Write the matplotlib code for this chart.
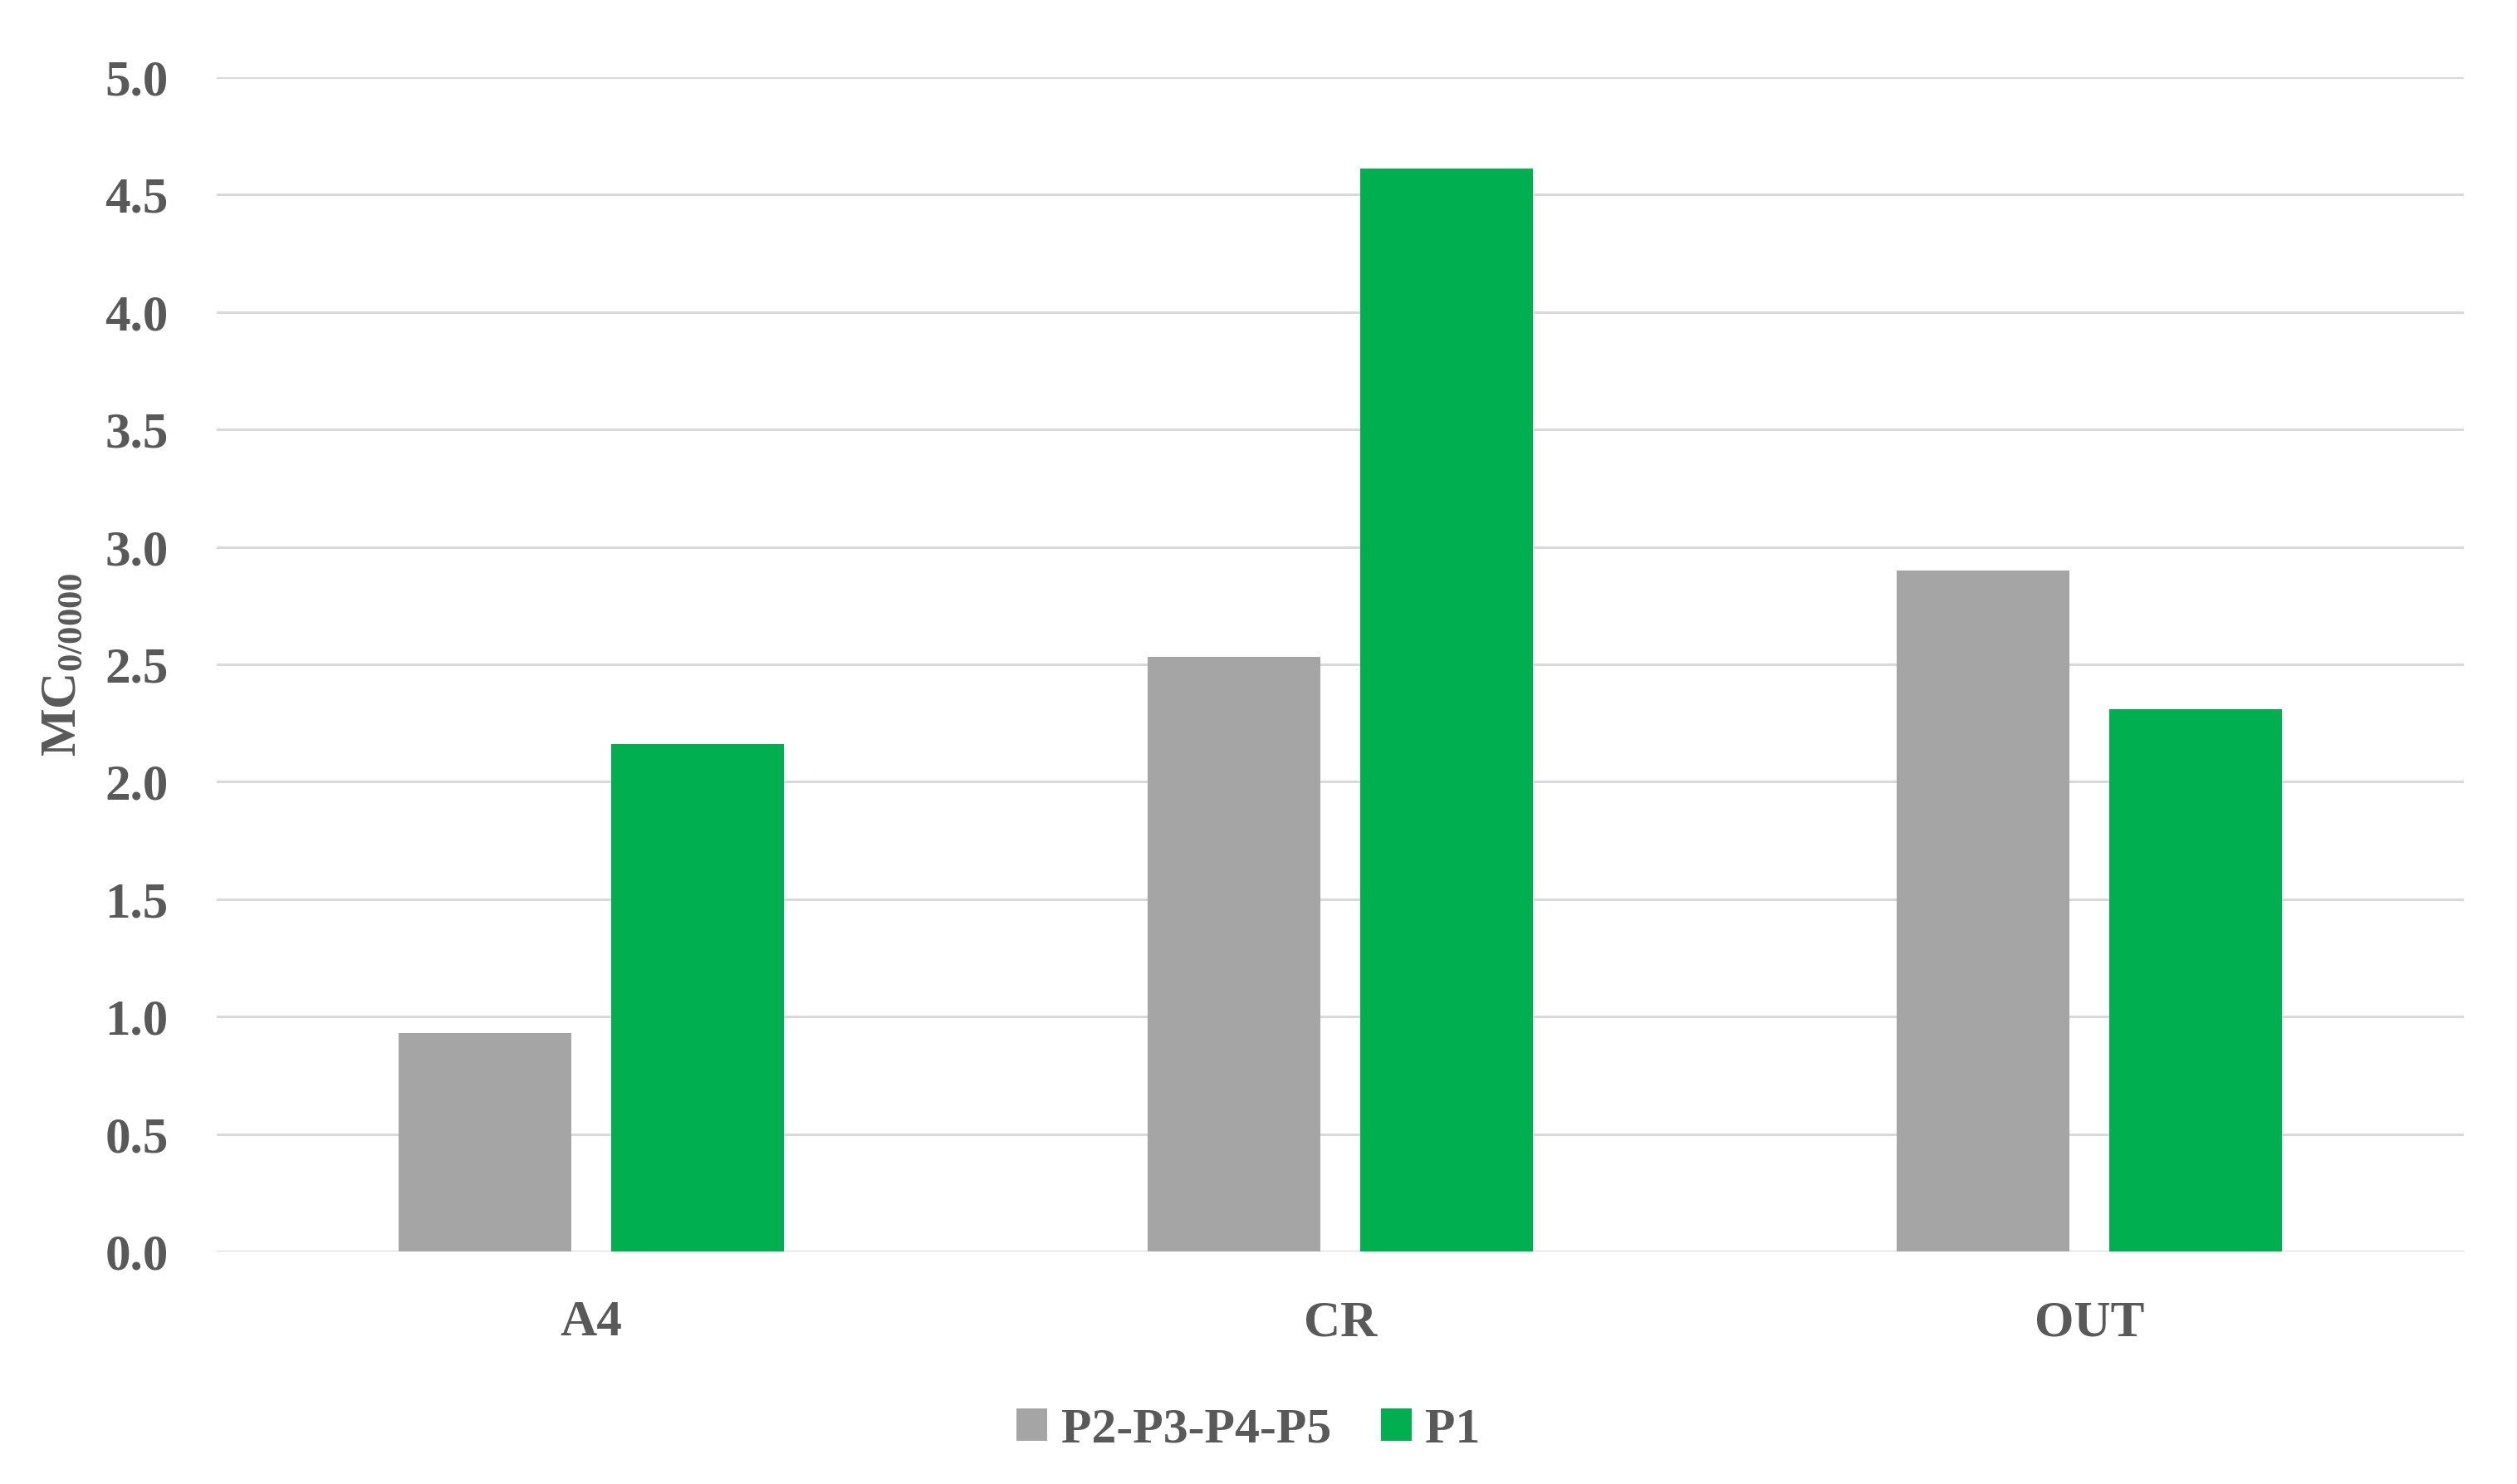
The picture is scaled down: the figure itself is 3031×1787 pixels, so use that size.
import matplotlib
matplotlib.use('Agg')
import matplotlib.pyplot as plt
import numpy as np

# values
categories = ['A4', 'CR', 'OUT']
p2_p5 = [0.93, 2.53, 2.90]
p1 = [2.16, 4.61, 2.31]
series_names = ['P2-P3-P4-P5', 'P1']
yticks = [0.0, 0.5, 1.0, 1.5, 2.0, 2.5, 3.0, 3.5, 4.0, 4.5, 5.0]

GREY = '#A5A5A5'
GREEN = '#00B050'
TXT = '#595959'

plt.rcParams['font.family'] = ['Liberation Serif', 'DejaVu Serif']
plt.rcParams['mathtext.fontset'] = 'custom'
plt.rcParams['mathtext.rm'] = 'Liberation Serif:bold'
plt.rcParams['mathtext.it'] = 'Liberation Serif:bold'

fig = plt.figure(figsize=(30.31, 17.87), dpi=100)
ax = fig.add_axes([0.0861, 0.1567, 0.8928, 0.7913])

x = np.arange(len(categories))
w = 0.23
off = 0.142
ax.bar(x - off, p2_p5, w, color=GREY, label=series_names[0], zorder=3)
ax.bar(x + off, p1, w, color=GREEN, label=series_names[1], zorder=3)

ax.set_xlim(-0.5, len(categories) - 0.5)
ax.set_ylim(0, 5.0)
ax.set_yticks(yticks)
ax.set_yticklabels([f'{v:.1f}' for v in yticks])
ax.set_xticks(x)
ax.set_xticklabels(categories)

for s in ax.spines.values():
    s.set_visible(False)
ax.grid(axis='y', color='#D9D9D9', linewidth=2.2, zorder=0)
ax.tick_params(axis='both', length=0, labelsize=44, labelcolor=TXT)
ax.tick_params(axis='y', pad=42)
ax.tick_params(axis='x', pad=42)
for lbl in ax.get_xticklabels() + ax.get_yticklabels():
    lbl.set_fontweight('bold')

ax.set_ylabel(r'$\mathrm{MC}_{\mathrm{0/0000}}$', fontsize=44, color=TXT,
              fontweight='bold', labelpad=16)

fig.legend(loc='center', bbox_to_anchor=(0.496, 0.036), ncol=2, frameon=False,
           prop={'size': 43, 'weight': 'bold'}, labelcolor=TXT,
           handlelength=0.62, handleheight=0.62, handletextpad=0.28,
           columnspacing=1.0)

fig.savefig('out.png', dpi=100, facecolor='white')
